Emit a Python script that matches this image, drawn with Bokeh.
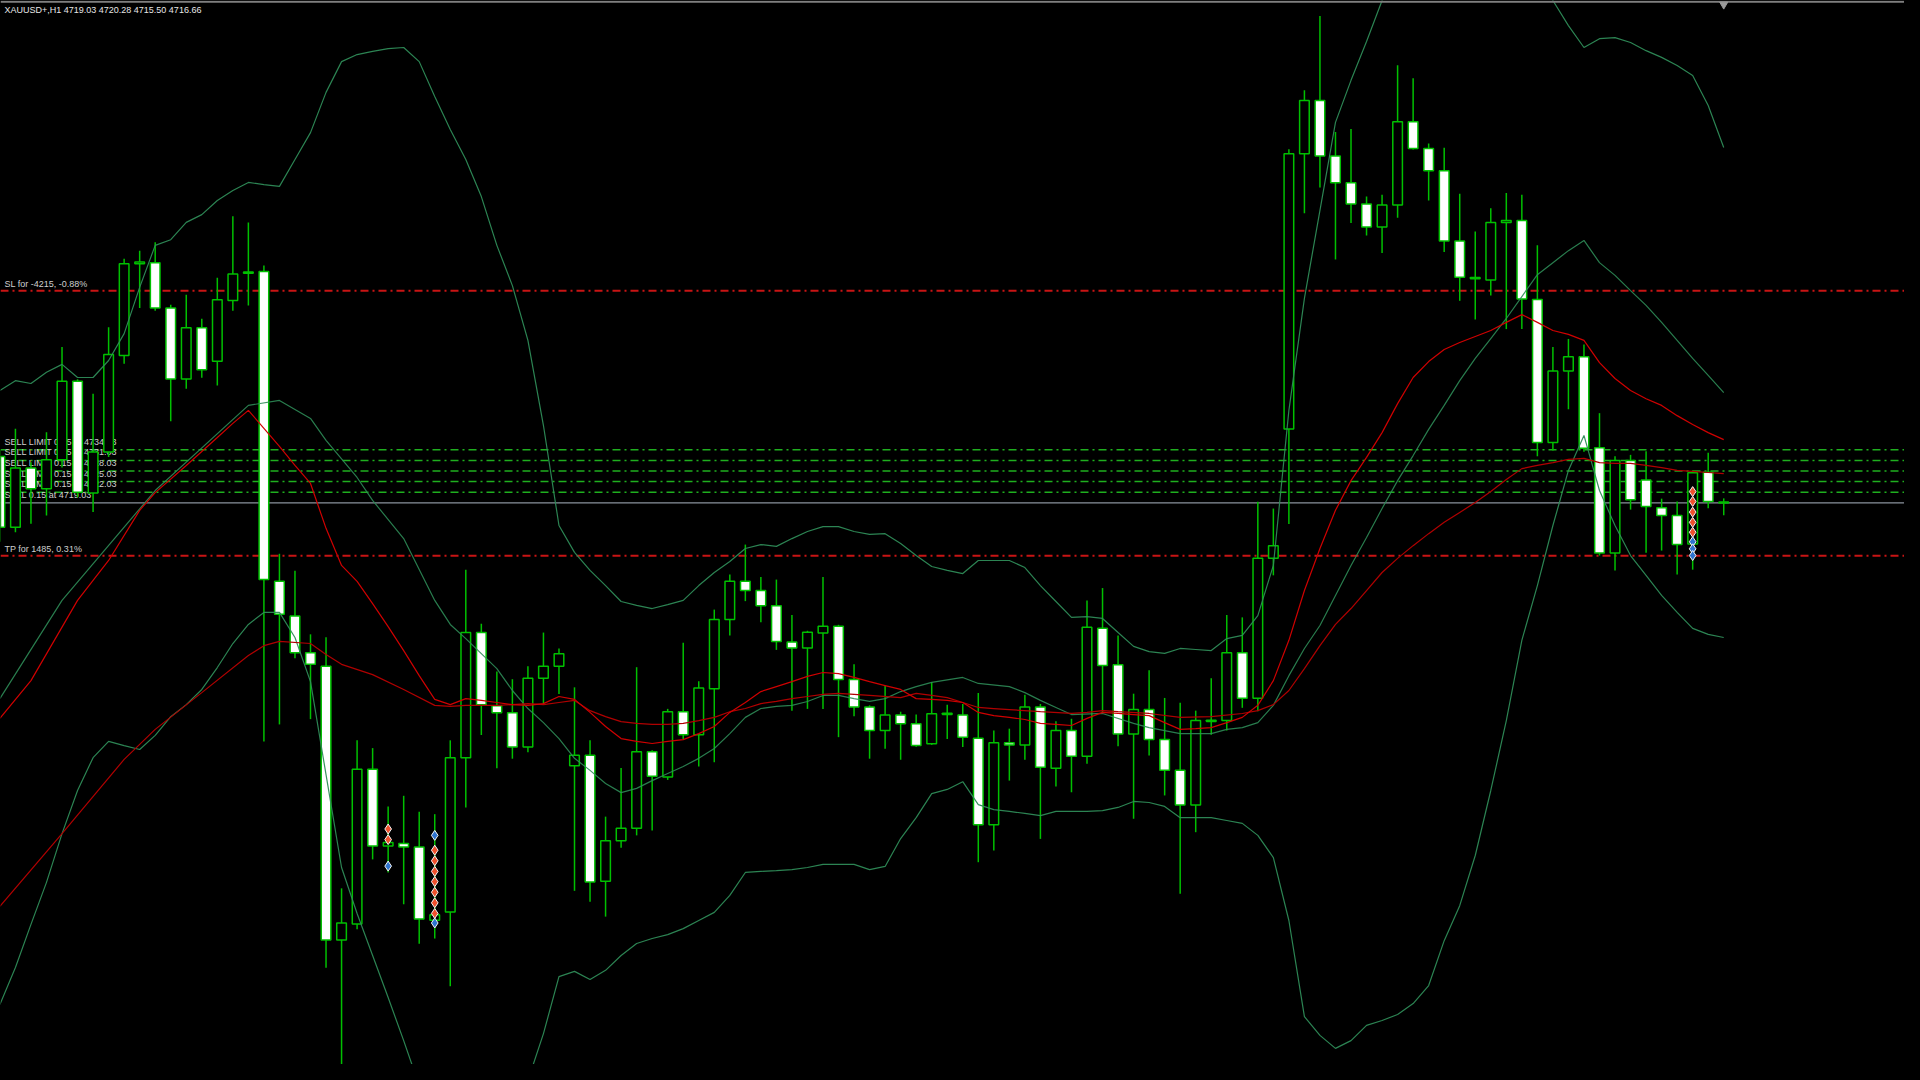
from bokeh.plotting import figure
from bokeh.core.properties import value
from bokeh.models import ColumnDataSource
from bokeh.embed import file_html
from bokeh.resources import INLINE

# ---------------- data ----------------
header_text = "XAUUSD+,H1  4719.03 4720.28 4715.50 4716.66"

opens = [4732.1, 4712.1, 4728.9, 4723.0, 4731.2, 4753.4, 4721.8, 4733.4, 4760.7, 4786.7,
         4787.0, 4774.2, 4754.1, 4768.6, 4759.1, 4776.3, 4784.1, 4784.5, 4696.8, 4687.0,
         4676.6, 4672.8, 4595.3, 4599.8, 4643.6, 4621.9, 4622.6, 4621.6, 4600.9, 4603.2,
         4646.9, 4682.3, 4661.6, 4659.6, 4649.9, 4669.4, 4672.8, 4644.6, 4647.6, 4611.9,
         4623.4, 4626.9, 4648.6, 4641.4, 4659.9, 4653.4, 4666.4, 4686.0, 4696.8, 4694.2,
         4689.9, 4679.6, 4677.9, 4682.2, 4684.1, 4669.0, 4661.2, 4654.6, 4659.0, 4656.5,
         4650.8, 4659.2, 4659.0, 4652.4, 4627.9, 4651.1, 4650.5, 4661.2, 4643.9, 4654.6,
         4647.3, 4683.5, 4673.2, 4653.6, 4660.5, 4652.0, 4643.3, 4633.5, 4657.2, 4657.4,
         4676.6, 4663.7, 4703.3, 4739.9, 4817.8, 4832.9, 4817.2, 4809.6, 4803.6, 4797.1,
         4803.3, 4826.9, 4819.3, 4813.0, 4793.1, 4782.8, 4782.1, 4798.4, 4798.9, 4776.6,
         4736.1, 4756.3, 4760.4, 4734.6, 4704.8, 4731.0, 4725.5, 4717.6, 4715.4, 4707.4,
         4727.7, 4719.03]
highs = [4734.0, 4740.0, 4730.5, 4739.0, 4763.1, 4754.0, 4749.9, 4768.7, 4788.1, 4790.4,
         4792.8, 4775.1, 4777.9, 4771.1, 4782.7, 4800.1, 4798.4, 4786.2, 4704.6, 4699.8,
         4681.8, 4681.0, 4609.9, 4651.8, 4649.6, 4633.1, 4636.1, 4631.6, 4630.9, 4651.8,
         4700.1, 4684.8, 4671.3, 4669.1, 4672.8, 4682.3, 4677.8, 4666.8, 4651.8, 4630.2,
         4644.0, 4672.5, 4649.0, 4660.7, 4679.4, 4668.5, 4688.8, 4698.7, 4707.2, 4698.0,
         4697.3, 4687.3, 4682.8, 4698.0, 4684.5, 4673.3, 4661.7, 4667.3, 4659.9, 4659.1,
         4668.3, 4661.9, 4662.1, 4665.2, 4654.6, 4655.1, 4664.7, 4662.1, 4657.2, 4657.9,
         4691.4, 4694.9, 4681.5, 4665.0, 4671.6, 4663.8, 4662.4, 4660.2, 4669.4, 4687.3,
         4686.6, 4719.3, 4717.4, 4819.1, 4835.8, 4856.8, 4824.0, 4824.8, 4805.7, 4806.2,
         4842.9, 4839.2, 4820.7, 4819.5, 4806.5, 4795.8, 4802.4, 4806.7, 4806.2, 4791.9,
         4763.1, 4765.4, 4763.8, 4744.4, 4732.2, 4732.6, 4733.6, 4720.2, 4719.4, 4728.2,
         4733.2, 4720.28]
lows = [4708.0, 4710.7, 4713.1, 4715.4, 4729.0, 4720.5, 4716.4, 4732.0, 4758.4, 4774.2,
        4773.4, 4742.1, 4751.3, 4754.4, 4752.2, 4773.4, 4774.9, 4651.5, 4656.3, 4675.0,
        4657.8, 4587.4, 4550.0, 4598.3, 4618.1, 4614.4, 4605.4, 4594.2, 4595.7, 4582.2,
        4632.8, 4653.3, 4643.9, 4646.6, 4648.4, 4661.9, 4664.9, 4609.2, 4606.1, 4601.9,
        4621.4, 4624.9, 4626.3, 4640.6, 4652.2, 4644.4, 4645.6, 4681.5, 4691.2, 4685.2,
        4677.4, 4660.2, 4660.7, 4660.7, 4652.7, 4658.6, 4646.6, 4649.4, 4646.3, 4650.0,
        4650.5, 4652.2, 4649.9, 4617.3, 4620.6, 4640.4, 4646.3, 4623.9, 4638.7, 4637.1,
        4645.2, 4659.5, 4650.1, 4629.6, 4647.5, 4636.2, 4608.4, 4625.8, 4653.4, 4654.6,
        4661.0, 4660.0, 4698.5, 4713.0, 4801.0, 4808.3, 4787.9, 4798.2, 4794.7, 4789.7,
        4799.7, 4819.0, 4804.6, 4790.0, 4776.2, 4770.9, 4777.7, 4768.2, 4768.2, 4732.2,
        4733.8, 4745.5, 4733.5, 4704.1, 4699.9, 4717.1, 4704.9, 4705.5, 4698.7, 4700.1,
        4717.5, 4715.50]
closes = [4712.1, 4728.9, 4723.0, 4731.2, 4753.4, 4722.0, 4733.4, 4761.0, 4786.7, 4787.2,
          4774.2, 4754.1, 4768.6, 4756.7, 4776.5, 4783.8, 4784.3, 4697.3, 4687.5, 4676.6,
          4673.3, 4595.3, 4600.1, 4643.6, 4621.9, 4622.9, 4621.6, 4601.2, 4602.4, 4646.9,
          4682.3, 4661.9, 4659.6, 4649.9, 4669.4, 4672.8, 4676.3, 4647.6, 4611.7, 4623.4,
          4626.9, 4648.6, 4641.6, 4659.9, 4653.4, 4666.6, 4686.0, 4696.8, 4694.2, 4689.9,
          4679.8, 4677.9, 4682.4, 4684.1, 4669.0, 4661.2, 4654.6, 4659.0, 4656.5, 4650.3,
          4659.3, 4659.4, 4652.7, 4627.9, 4651.1, 4650.5, 4661.2, 4644.2, 4654.6, 4647.3,
          4683.8, 4673.0, 4653.6, 4660.5, 4652.0, 4643.3, 4633.5, 4657.4, 4657.4, 4676.6,
          4663.7, 4703.3, 4706.9, 4817.8, 4832.9, 4817.2, 4809.6, 4803.6, 4797.1, 4803.3,
          4826.9, 4819.3, 4813.0, 4793.1, 4782.9, 4782.5, 4798.4, 4798.9, 4776.7, 4736.1,
          4756.3, 4760.4, 4734.5, 4704.8, 4731.0, 4719.9, 4718.0, 4715.4, 4707.2, 4727.5,
          4719.4, 4719.2]
bars = list(range(len(opens)))

# Bollinger bands (upper / middle / lower)
bb_up_bar = list(range(112))
bb_up = [4750.8, 4753.6, 4752.8, 4756.0, 4758.2, 4754.5, 4754.5, 4759.3, 4766.9, 4780.0,
         4791.9, 4793.5, 4798.4, 4800.6, 4804.6, 4807.4, 4809.7, 4809.1, 4808.6, 4816.2,
         4823.8, 4835.2, 4843.9, 4845.9, 4846.8, 4847.6, 4847.9, 4843.9, 4834.0, 4824.7,
         4816.2, 4805.7, 4791.9, 4780.5, 4765.0, 4740.9, 4712.6, 4705.0, 4699.9, 4695.6,
         4691.1, 4690.0, 4689.1, 4690.2, 4691.4, 4695.6, 4699.3, 4702.4, 4706.1, 4707.2,
         4706.7, 4708.9, 4710.9, 4712.3, 4712.3, 4710.9, 4710.1, 4710.3, 4707.5, 4704.1,
         4701.0, 4699.9, 4699.0, 4702.7, 4702.7, 4702.7, 4700.7, 4695.6, 4691.1, 4686.6,
         4686.8, 4686.3, 4682.3, 4678.4, 4676.9, 4676.4, 4677.8, 4677.5, 4677.2, 4680.6,
         4681.5, 4687.1, 4701.3, 4745.2, 4776.9, 4801.8, 4826.7, 4838.6, 4849.6, 4861.2,
         4876.0, 4888.0, 4897.0, 4901.0, 4902.0, 4900.0, 4893.0, 4885.0, 4875.0, 4867.0,
         4861.2, 4854.1, 4847.9, 4850.4, 4850.7, 4849.3, 4847.0, 4845.1, 4842.8, 4840.0,
         4831.5, 4819.6]
bb_low_bar = list(range(0, 29)) + [30, 32] + list(range(34, 112))
bb_low = [4577.0, 4587.5, 4599.7, 4611.6, 4625.4, 4637.6, 4646.9, 4651.5, 4650.3, 4649.2,
          4653.2, 4658.5, 4661.9, 4666.2, 4672.4, 4679.2, 4684.6, 4688.0, 4688.0, 4680.9,
          4668.4, 4642.1, 4615.8, 4602.8, 4590.9, 4579.0, 4566.8, 4554.1, 4547.0, 4535.7,
          4544.2, 4555.5, 4568.8, 4584.9, 4586.4, 4584.1, 4586.7, 4590.9, 4594.3, 4595.7,
          4596.8, 4598.5, 4600.8, 4603.1, 4607.9, 4614.4, 4614.7, 4614.9, 4615.2, 4615.8,
          4616.7, 4616.7, 4616.7, 4615.2, 4616.1, 4624.0, 4629.9, 4636.7, 4637.9, 4640.1,
          4633.6, 4632.2, 4631.7, 4631.1, 4630.5, 4631.7, 4631.7, 4631.7, 4631.9, 4632.8,
          4634.5, 4634.2, 4633.1, 4629.9, 4629.9, 4629.9, 4629.1, 4628.3, 4624.9, 4618.6,
          4600.8, 4573.6, 4568.3, 4564.6, 4566.8, 4571.1, 4572.5, 4574.2, 4577.3, 4582.4,
          4595.1, 4605.0, 4619.2, 4637.6, 4657.4, 4680.1, 4695.6, 4712.6, 4728.2, 4738.1,
          4722.5, 4712.6, 4704.1, 4698.5, 4692.8, 4688.0, 4683.5, 4681.8, 4680.9]
bb_mid_bar = [0, 4, 10, 16, 18, 20, 21, 23, 24, 26, 28, 29, 30, 32, 33, 34, 35, 36, 37, 38,
              39, 40, 41, 42, 43, 44, 45, 46, 47, 48, 49, 50, 51, 52, 53, 54, 55, 56, 57, 58,
              59, 60, 62, 63, 65, 66, 67, 68, 69, 71, 73, 74, 76, 78, 79, 80, 81, 82, 83, 84,
              85, 86, 87, 88, 89, 90, 91, 92, 93, 94, 95, 96, 97, 98, 99, 100, 101, 102, 103,
              104, 105, 106, 107, 108, 109, 110, 111]
bb_mid = [4663.6, 4691.4, 4722.5, 4746.6, 4748.0, 4742.9, 4736.7, 4726.2, 4719.7, 4708.9,
          4691.4, 4684.6, 4680.6, 4672.1, 4665.9, 4660.8, 4656.8, 4652.3, 4646.7, 4643.3,
          4639.6, 4637.0, 4638.2, 4640.4, 4642.4, 4644.4, 4646.7, 4649.5, 4653.7, 4658.3,
          4660.8, 4661.4, 4661.7, 4662.8, 4664.5, 4664.5, 4663.6, 4662.8, 4663.6, 4665.6,
          4667.0, 4668.2, 4669.6, 4667.9, 4667.0, 4665.3, 4663.1, 4661.1, 4659.1, 4659.4,
          4656.6, 4655.4, 4653.7, 4653.7, 4654.9, 4655.4, 4656.8, 4661.7, 4670.1, 4677.8,
          4684.3, 4692.8, 4701.3, 4709.2, 4717.4, 4725.3, 4732.4, 4739.8, 4746.6, 4753.6,
          4759.9, 4765.5, 4771.2, 4777.4, 4783.6, 4787.0, 4790.4, 4793.3, 4787.0, 4783.4,
          4779.1, 4774.9, 4770.1, 4765.0, 4759.9, 4755.1, 4750.2]

# moving averages (fast / slow)
ma_fast_bar = [0, 2, 5, 7, 9, 10, 12, 14, 15, 16, 17, 18, 19, 20, 21, 22, 23, 24, 25, 26,
               27, 28, 29, 30, 31, 32, 33, 34, 35, 36, 37, 38, 39, 40, 41, 42, 43, 44, 45, 46,
               47, 48, 49, 50, 51, 52, 53, 54, 55, 56, 57, 58, 59, 60, 61, 62, 63, 64, 65, 66,
               67, 68, 69, 70, 71, 72, 73, 74, 75, 76, 77, 78, 79, 80, 81, 82, 83, 84, 85, 86,
               87, 88, 89, 90, 91, 92, 93, 94, 95, 96, 97, 98, 99, 100, 101, 102, 103, 104,
               105, 106, 107, 108, 109, 110, 111]
ma_fast = [4658.0, 4668.7, 4691.4, 4702.7, 4716.9, 4721.9, 4729.6, 4737.5, 4741.5, 4745.2,
           4740.1, 4735.0, 4729.6, 4724.5, 4711.8, 4701.3, 4696.8, 4690.5, 4684.0, 4677.2,
           4670.1, 4663.4, 4661.9, 4663.6, 4663.1, 4662.5, 4661.9, 4661.7, 4662.2, 4664.2,
           4663.4, 4659.7, 4655.7, 4652.3, 4651.5, 4650.9, 4651.5, 4652.0, 4653.7, 4655.7,
           4659.7, 4662.5, 4665.6, 4667.0, 4668.4, 4669.9, 4671.0, 4670.7, 4669.6, 4668.4,
           4667.3, 4666.2, 4663.6, 4663.4, 4663.1, 4662.5, 4659.7, 4658.8, 4658.3, 4657.7,
           4656.6, 4656.3, 4656.0, 4658.0, 4659.7, 4659.4, 4659.1, 4658.8, 4656.8, 4654.9,
           4655.1, 4655.4, 4656.8, 4658.3, 4661.7, 4668.7, 4680.1, 4694.2, 4706.1, 4716.9,
           4725.3, 4731.9, 4738.9, 4747.1, 4754.5, 4759.0, 4762.4, 4764.4, 4766.1, 4767.8,
           4770.1, 4772.3, 4770.1, 4767.8, 4766.7, 4765.0, 4758.7, 4754.2, 4750.8, 4748.5,
           4746.6, 4743.7, 4741.2, 4738.9, 4736.9]
ma_slow_bar = [0, 4, 8, 10, 13, 16, 17, 18, 20, 21, 22, 24, 26, 28, 29, 30, 32, 33, 34, 35,
               36, 37, 38, 39, 40, 41, 42, 43, 44, 45, 46, 47, 48, 49, 50, 51, 52, 53, 54, 55,
               56, 58, 59, 60, 61, 62, 63, 64, 65, 67, 69, 70, 71, 72, 74, 76, 78, 80, 81, 82,
               83, 84, 85, 86, 87, 88, 89, 90, 91, 92, 93, 94, 95, 96, 97, 98, 99, 100, 101,
               102, 103, 104, 105, 106, 107, 108, 109, 110, 111]
ma_slow = [4604.8, 4625.4, 4646.4, 4654.9, 4665.3, 4675.8, 4678.6, 4679.8, 4679.2, 4676.1,
           4673.3, 4670.4, 4666.2, 4661.7, 4661.4, 4661.7, 4661.7, 4661.9, 4662.2, 4661.9,
           4662.5, 4663.1, 4660.2, 4658.5, 4657.1, 4656.6, 4656.3, 4656.3, 4656.6, 4657.4,
           4658.3, 4659.9, 4660.8, 4662.2, 4662.8, 4663.6, 4664.2, 4664.8, 4665.1, 4664.8,
           4664.5, 4663.9, 4665.1, 4664.5, 4663.9, 4662.5, 4661.1, 4660.8, 4660.5, 4659.9,
           4659.4, 4659.7, 4660.2, 4659.9, 4659.4, 4658.3, 4658.5, 4659.4, 4660.2, 4661.9,
           4665.9, 4672.1, 4678.6, 4684.6, 4689.1, 4694.2, 4699.3, 4703.3, 4706.9, 4710.3,
           4713.5, 4716.3, 4719.1, 4722.2, 4725.6, 4728.7, 4729.6, 4730.4, 4731.3, 4731.6,
           4730.4, 4730.2, 4730.2, 4729.6, 4729.0, 4728.2, 4727.9, 4727.6, 4727.3]

# trade arrows
sell_arrow_bar = [25, 25, 28, 28, 28, 28, 28, 28, 28, 109, 109, 109, 109, 109]
sell_arrow_price = [4626.7, 4623.7, 4620.7, 4617.7, 4614.7, 4611.8, 4608.8, 4605.8, 4602.8,
                    4722.2, 4719.4, 4716.4, 4713.5, 4710.7]
buy_arrow_bar = [25, 28, 28, 109, 109, 109]
buy_arrow_price = [4616.2, 4624.9, 4600.1, 4708.0, 4706.0, 4704.1]

# order levels
pending_prices = [4734.03, 4731.03, 4728.03, 4725.03, 4722.03]
pending_labels = ["SELL LIMIT 0.15 at 4734.03", "SELL LIMIT 0.15 at 4731.03",
                  "SELL LIMIT 0.15 at 4728.03", "SELL LIMIT 0.15 at 4725.03",
                  "SELL LIMIT 0.15 at 4722.03"]
position_price = 4719.03
position_label = "SELL 0.15 at 4719.03"
sl_price = 4779.03
sl_label = "SL for -4215, -0.88%"
tp_price = 4704.03
tp_label = "TP for 1485, 0.31%"

# ---------------- styling / layout ----------------
W, H = 1904, 1064
BAR_PX = 15.53          # pixels per bar
PRICE_PER_PX = 0.28304  # price units per pixel
X0 = 0.6 / BAR_PX
X1 = X0 + W / BAR_PX
Y1 = 4861.2
Y0 = Y1 - H * PRICE_PER_PX
DX = 1.0 / BAR_PX
DY = PRICE_PER_PX

GREEN = "#00C000"
ORDER_GREEN = "#1FAF1F"
ORDER_RED = "#C81414"
BB_COLOR = "#2E8B57"
FONT = value("Liberation Sans")

p = figure(width=W, height=H, output_backend="svg", toolbar_location=None,
           x_range=(X0, X1), y_range=(Y0, Y1), x_axis_type=None, y_axis_type=None,
           background_fill_color="black", border_fill_color="black",
           outline_line_color=None, min_border=0)
p.grid.visible = False

# order lines (behind candles)
n_p = len(pending_prices)
p.segment(x0=[X0] * n_p, x1=[X1] * n_p, y0=pending_prices, y1=pending_prices,
          line_color=ORDER_GREEN, line_width=1.5, line_dash="8 4 2 4")
p.segment(x0=[X0], x1=[X1], y0=[position_price], y1=[position_price],
          line_color="#8A929C", line_width=1.2)
p.segment(x0=[X0, X0], x1=[X1, X1], y0=[sl_price, tp_price], y1=[sl_price, tp_price],
          line_color=ORDER_RED, line_width=2, line_dash="8 4 2 4")

label_x = X0 + 4 * DX
p.text(x=[label_x] * (n_p + 1), y=[v + 3 * DY for v in pending_prices + [position_price]],
       text=pending_labels + [position_label], text_baseline="bottom",
       text_font=FONT, text_font_size="9px", text_color="#CFCFCF")
p.text(x=[label_x, label_x], y=[sl_price + 2 * DY, tp_price + 2 * DY],
       text=[sl_label, tp_label], text_baseline="bottom",
       text_font=FONT, text_font_size="9px", text_color="#CFCFCF")

# candles
tops, bots, fills = [], [], []
for o, c in zip(opens, closes):
    t, b = max(o, c), min(o, c)
    if t - b < 0.35:
        m = (t + b) / 2
        t, b = m + 0.175, m - 0.175
    tops.append(t)
    bots.append(b)
    fills.append("black" if c >= o else "white")
src = ColumnDataSource(dict(x=bars, top=tops, bottom=bots, high=highs, low=lows, fill=fills))
p.segment(x0="x", y0="low", x1="x", y1="high", source=src, line_color=GREEN, line_width=1.5)
p.vbar(x="x", width=0.62, top="top", bottom="bottom", source=src,
       fill_color="fill", line_color=GREEN, line_width=1.5)

# indicators
p.line(bb_up_bar, bb_up, line_color=BB_COLOR, line_width=1.2, line_alpha=0.95)
p.line(bb_low_bar, bb_low, line_color=BB_COLOR, line_width=1.2, line_alpha=0.95)
p.line(bb_mid_bar, bb_mid, line_color=BB_COLOR, line_width=1.2, line_alpha=0.9)
p.line(ma_slow_bar, ma_slow, line_color="#B00000", line_width=1.2)
p.line(ma_fast_bar, ma_fast, line_color="#D00000", line_width=1.2)

# trade arrows
p.scatter(sell_arrow_bar, sell_arrow_price, marker="diamond", size=10,
          fill_color="#F0502D", line_color="#F4F4F4", line_width=1)
p.scatter(buy_arrow_bar, buy_arrow_price, marker="diamond", size=10,
          fill_color="#2F74D0", line_color="#F4F4F4", line_width=1)

# window frame details
p.segment(x0=[X0], x1=[X1], y0=[Y1 - 1.2 * DY], y1=[Y1 - 1.2 * DY],
          line_color="#7F7F7F", line_width=2)
p.scatter([bars[-1]], [Y1 - 4 * DY], marker="inverted_triangle", size=8,
          fill_color="#9A9A9A", line_color="#9A9A9A")

# header
p.text(x=[label_x], y=[Y1 - 4 * DY], text=[header_text], text_baseline="top",
       text_font=FONT, text_font_size="9px", text_color="#E6E6E6")

html = file_html(p, INLINE)
html = html.replace("</head>", "<style>body{background:#000000;}</style></head>", 1)
open("out.html", "w").write(html)
